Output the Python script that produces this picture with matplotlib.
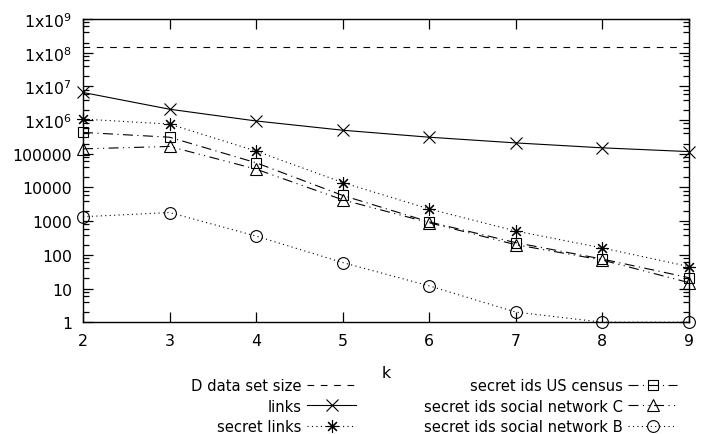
import matplotlib
matplotlib.use("Agg")
import matplotlib.pyplot as plt
from matplotlib.ticker import FixedLocator, LogLocator, NullFormatter

# ── Data ──────────────────────────────────────────────────
k = [2, 3, 4, 5, 6, 7, 8, 9]
dataset_size = [1.5e8] * len(k)
links = [6.6e6, 2.1e6, 9.4e5, 5.0e5, 3.1e5, 2.1e5, 1.5e5, 1.16e5]
secret_links = [1.07e6, 7.6e5, 1.2e5, 1.4e4, 2.3e3, 5.1e2, 1.6e2, 45]
us_census = [4.3e5, 3.1e5, 5.4e4, 5.8e3, 9.5e2, 2.3e2, 75, 21]
social_c = [1.4e5, 1.65e5, 3.5e4, 4.3e3, 9.0e2, 2.0e2, 70, 15]
social_b = [1.35e3, 1.8e3, 3.6e2, 59, 12, 2, 1, 1]

ytick_vals = [1, 10, 100, 1000, 10000, 100000, 1e6, 1e7, 1e8, 1e9]
ytick_labels = ["1", "10", "100", "1000", "10000", "100000",
                r"1x10$^{6}$", r"1x10$^{7}$", r"1x10$^{8}$", r"1x10$^{9}$"]

FS = 11.3
plt.rcParams.update({
    "font.family": "DejaVu Sans",
    "font.size": FS,
    "mathtext.default": "regular",
    "axes.linewidth": 1.0,
})

fig = plt.figure(figsize=(7.22, 4.35), dpi=100)
ax = fig.add_axes([0.115, 0.257, 0.839, 0.697])

common = dict(color="black", lw=0.8, fillstyle="none", markeredgewidth=0.8)
l_d, = ax.plot(k, dataset_size, ls=(0, (6, 6)), marker="none",
               label="D data set size", **common)
l_links, = ax.plot(k, links, ls="-", marker="x", ms=9,
                   label="links", **common)
l_sl, = ax.plot(k, secret_links, ls=(0, (1, 3)), marker=(8, 2, 0), ms=9,
                label="secret links", **common)
l_us, = ax.plot(k, us_census, ls=(0, (9, 4, 1, 4)), marker="s", ms=7.5,
                label="secret ids US census", **common)
l_c, = ax.plot(k, social_c, ls=(0, (9, 4, 1, 4, 1, 4)), marker="^", ms=8,
               label="secret ids social network C", **common)
l_b, = ax.plot(k, social_b, ls=(0, (1, 3)), marker="o", ms=8.5,
               label="secret ids social network B", **common)

ax.set_yscale("log")
ax.set_xlim(2, 9)
ax.set_ylim(1, 1e9)
ax.set_xticks(k)
ax.yaxis.set_major_locator(FixedLocator(ytick_vals))
ax.set_yticklabels(ytick_labels)
ax.yaxis.set_minor_locator(LogLocator(base=10, subs=(2, 4, 6, 8), numticks=20))
ax.yaxis.set_minor_formatter(NullFormatter())
ax.tick_params(which="both", direction="in", top=True, right=True)
ax.tick_params(which="major", length=7, width=0.9)
ax.tick_params(axis="x", which="major", pad=8)
ax.tick_params(axis="y", which="major", pad=8)
ax.tick_params(which="minor", length=4, width=0.9)
for sp in ax.spines.values():
    sp.set_clip_on(False)
for ln in ax.get_lines():
    ln.set_clip_on(False)

ax.set_xlabel("k", labelpad=12)

fig.legend(handles=[l_d, l_links, l_sl, l_us, l_c, l_b],
           loc="upper right", bbox_to_anchor=(677 / 722, 1 - 379 / 435),
           ncol=2, markerfirst=False, frameon=False, fontsize=10.6,
           handlelength=3.3, handletextpad=0.4, columnspacing=4.6,
           labelspacing=0.38, borderaxespad=0, borderpad=0)

fig.savefig("out.png", dpi=100, facecolor="white")
